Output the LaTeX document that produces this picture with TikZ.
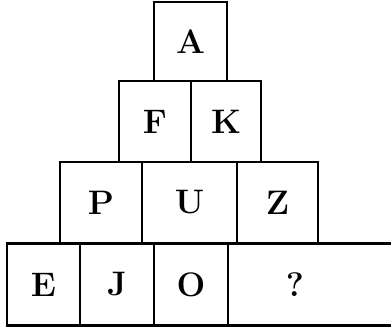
\documentclass[tikz,border=0pt]{standalone}
\usepackage{fontspec}
\usepackage{tikz}

\tikzset{
    letterbox/.style={draw, line width=2.2pt, inner sep=0pt,
        font=\bfseries\fontsize{34}{34}\selectfont},
}

\begin{document}
\begin{tikzpicture}[x=1pt, y=1pt]
    \useasboundingbox (0,0) rectangle (391,331);

    % Top block
    \node[letterbox, minimum width=73pt, minimum height=79pt] (a) at (190.5,289.5) {A};

    % Second row
    \node[letterbox, minimum width=72pt, minimum height=81pt] (f) at (155,209.5) {F};
    \node[letterbox, minimum width=70pt, minimum height=81pt] (k) at (226,209.5) {K};

    % Third row
    \node[letterbox, minimum width=82pt, minimum height=81pt] (p) at (101,128.5) {P};
    \node[letterbox, minimum width=95pt, minimum height=81pt] (u) at (189.5,128.5) {U};
    \node[letterbox, minimum width=81pt, minimum height=81pt] (z) at (277.5,128.5) {Z};

    % Bottom row
    \node[letterbox, minimum width=73pt, minimum height=82pt] (e) at (43.5,46.5) {E};
    \node[letterbox, minimum width=74pt, minimum height=82pt] (j) at (117,46.5) {J};
    \node[letterbox, minimum width=74pt, minimum height=82pt] (o) at (191,46.5) {O};
    \node[letterbox, minimum width=180pt, minimum height=82pt] (q) at (318,46.5) {};
    \node[font=\bfseries\fontsize{34}{34}\selectfont] (qmark) at (295,46.5) {?};
\end{tikzpicture}
\end{document}
